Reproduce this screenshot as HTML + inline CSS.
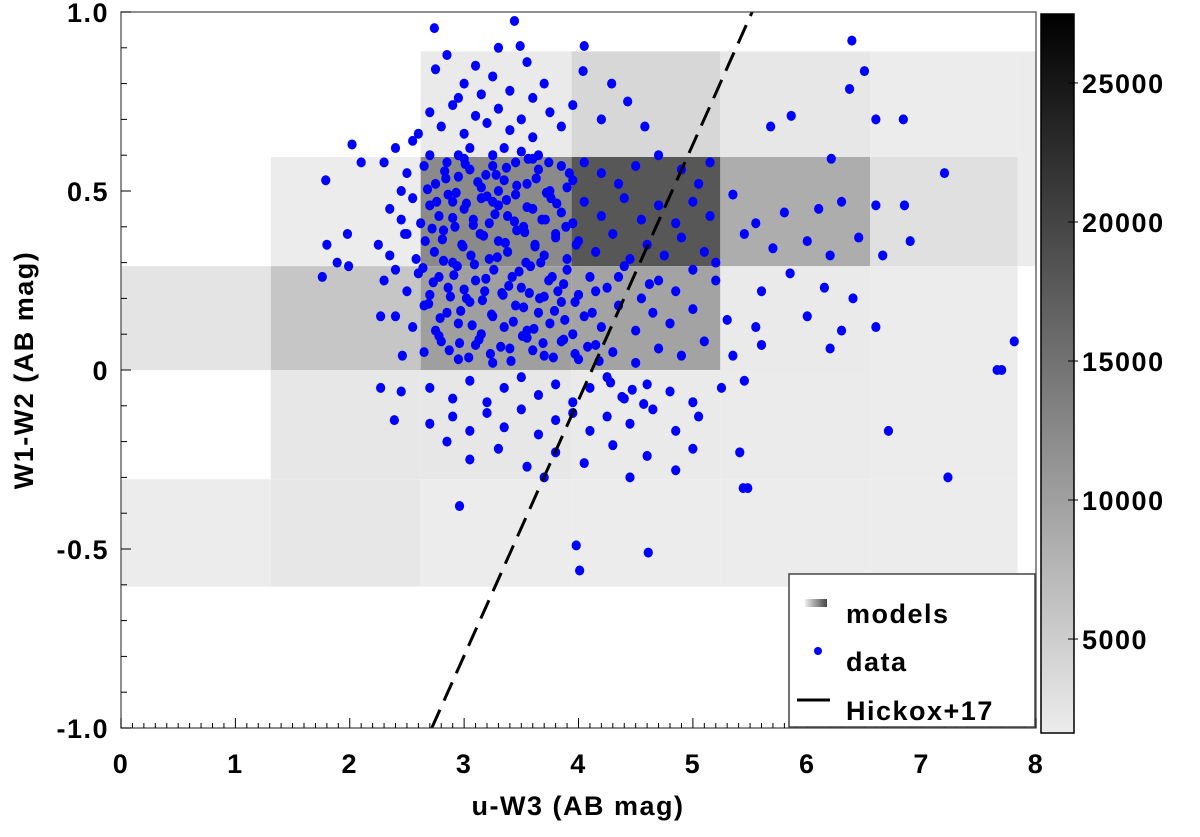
<!DOCTYPE html>
<html><head><meta charset="utf-8"><style>
body{margin:0;background:#fff}
svg text{font-family:"Liberation Sans",sans-serif;font-weight:bold;fill:#000;letter-spacing:1.5px}
</style></head><body>
<svg id="c" width="1200" height="832" viewBox="0 0 1200 832" xmlns="http://www.w3.org/2000/svg">
<defs>
<linearGradient id="cb" x1="0" y1="1" x2="0" y2="0"><stop offset="0" stop-color="#ececec"/><stop offset="1" stop-color="#000"/></linearGradient>
<linearGradient id="lg" x1="0" y1="0" x2="1" y2="0"><stop offset="0" stop-color="#eee"/><stop offset="1" stop-color="#444"/></linearGradient>
</defs>
<g id="cells"></g>
<g id="pts"></g>
<g id="ax"></g>
</svg>
<script>
const xEdges=[0,1.31,2.62,3.94,5.24,6.55,7.84,8.0];
const yEdges=[0.89,0.595,0.29,0,-0.305,-0.605];
// model counts per cell, rows top->bottom, cols left->right (0 = empty)
const cellCounts=[
 [0,0,1800,3960,2180,1620,1620],
 [0,1620,12320,18000,8530,2960,1620],
 [2510,5740,10090,9650,1840,1620,0],
 [0,2180,2180,1840,1700,1620,0],
 [1620,2180,1650,1650,1620,1620,0]];
const cbMin=1620, cbMax=27480;
const cbTicks=[5000,10000,15000,20000,25000];
const xTicks=[0,1,2,3,4,5,6,7,8];
const yTicks=[-1.0,-0.5,0,0.5,1.0];
const yTickLabels=["-1.0","-0.5","0","0.5","1.0"];
const hickoxSlope=0.714, hickoxIntercept=-2.94;
const dataX=[2.74,3.44,3.49,4.05,4.04,4.29,4.20,4.43,4.58,6.39,6.5,6.37,5.68,5.86,6.21,6.6,6.6,6.84,6.85,7.2,6.66,6.9,7.81,7.66,7.7,6.71,7.23,5.44,5.48,5.41,3.98,4.01,4.61,2.96,1.79,2.02,1.8,1.76,1.98,1.89,1.99,2.1,2.27,2.46,2.27,2.39,
2.75,2.85,3.0,3.1,3.25,3.4,3.55,3.7,3.3,2.95,3.15,3.6,
2.7,2.8,2.9,3.0,3.1,3.2,3.3,3.4,3.5,3.6,3.75,3.85,3.95,2.6,3.05,3.35,3.5,3.65,3.25,2.95,
2.3,2.4,2.5,2.55,2.65,2.75,2.85,2.95,3.05,3.15,3.25,3.35,3.45,3.55,3.65,3.75,3.85,3.95,4.05,4.2,4.35,4.5,4.7,4.9,5.05,5.15,2.7,3.0,3.3,3.6,2.45,
2.35,2.45,2.55,2.62,2.7,2.78,2.86,2.92,3.0,3.08,3.15,3.22,3.3,3.38,3.45,3.52,3.6,3.68,3.76,3.85,3.95,4.05,4.2,4.4,4.55,4.7,4.85,5.0,5.15,5.35,5.55,5.8,6.1,6.3,2.5,2.9,3.25,
2.25,2.35,2.48,2.58,2.66,2.74,2.82,2.9,2.98,3.06,3.14,3.22,3.3,3.38,3.46,3.54,3.62,3.7,3.8,3.9,4.0,4.15,4.3,4.45,4.6,4.75,4.9,5.1,5.2,5.45,5.7,6.0,6.2,6.45,
2.3,2.4,2.5,2.6,2.7,2.78,2.86,2.94,3.02,3.1,3.18,3.26,3.34,3.42,3.5,3.58,3.66,3.74,3.82,3.9,4.0,4.1,4.25,4.4,4.55,4.7,4.85,5.0,5.2,5.6,5.85,6.15,6.4,
2.4,2.55,2.65,2.75,2.85,2.95,3.05,3.15,3.25,3.35,3.45,3.55,3.65,3.75,3.85,3.95,4.05,4.2,4.35,4.5,4.65,4.8,5.0,5.3,5.55,6.0,6.3,6.6,
2.65,2.8,2.95,3.1,3.25,3.4,3.55,3.7,3.85,4.0,4.15,4.3,4.5,4.7,4.9,5.1,5.35,5.6,6.2,
2.7,2.9,3.05,3.2,3.35,3.5,3.65,3.8,3.95,4.1,4.25,4.4,4.6,4.8,5.0,5.25,5.45,2.45,
2.9,3.05,3.2,3.35,3.5,3.65,3.8,3.95,4.1,4.25,4.45,4.65,4.85,5.05,2.7,
3.05,3.3,3.55,3.8,4.05,4.3,4.6,4.85,5.0,3.7,4.45,2.85,
2.68,2.76,2.84,2.93,3.02,3.12,3.2,3.28,3.37,3.46,3.55,3.63,3.72,3.81,3.9,2.72,2.81,2.9,2.99,3.08,3.17,3.27,3.36,3.44,3.53,3.62,3.71,3.8,3.89,3.98,
2.64,2.73,2.82,2.91,3.0,3.09,3.19,3.29,3.39,3.48,3.57,3.67,3.77,3.87,2.69,2.79,2.88,2.97,3.07,3.16,3.24,3.33,3.43,3.52,3.61,3.7,3.79,3.88,3.97,4.12,
2.78,2.87,2.96,3.04,3.13,3.23,3.32,3.41,3.51,3.6,3.69,3.78,3.87,3.97,4.08,4.18,4.28,4.38,4.47,4.57,2.83,3.01,3.19,3.37,3.56,3.74,3.92,4.15,4.35,4.62];
const dataY=[0.955,0.975,0.905,0.905,0.835,0.80,0.70,0.75,0.68,0.92,0.835,0.785,0.68,0.71,0.59,0.70,0.46,0.70,0.46,0.55,0.32,0.36,0.08,0,0,-0.17,-0.30,-0.33,-0.33,-0.23,-0.49,-0.56,-0.51,-0.38,0.53,0.63,0.35,0.26,0.38,0.30,0.29,0.58,0.15,0.04,-0.05,-0.14,
0.84,0.88,0.8,0.85,0.82,0.78,0.86,0.8,0.9,0.76,0.77,0.76,
0.72,0.68,0.74,0.66,0.71,0.69,0.73,0.67,0.7,0.65,0.72,0.68,0.74,0.66,0.62,0.62,0.61,0.6,0.6,0.6,
0.58,0.62,0.55,0.64,0.57,0.52,0.58,0.54,0.56,0.51,0.57,0.53,0.58,0.52,0.56,0.5,0.57,0.53,0.58,0.55,0.52,0.57,0.6,0.56,0.52,0.58,0.6,0.59,0.5,0.59,0.5,
0.45,0.42,0.48,0.41,0.46,0.43,0.49,0.4,0.45,0.42,0.48,0.41,0.46,0.43,0.49,0.4,0.45,0.42,0.48,0.44,0.41,0.47,0.43,0.48,0.42,0.46,0.41,0.47,0.43,0.49,0.41,0.44,0.45,0.47,0.38,0.47,0.47,
0.35,0.32,0.38,0.31,0.36,0.33,0.39,0.3,0.35,0.32,0.38,0.31,0.36,0.33,0.39,0.3,0.35,0.32,0.38,0.31,0.36,0.33,0.38,0.31,0.35,0.32,0.37,0.33,0.3,0.38,0.34,0.36,0.32,0.37,
0.25,0.28,0.22,0.27,0.21,0.26,0.23,0.29,0.2,0.25,0.22,0.28,0.21,0.26,0.23,0.29,0.2,0.25,0.22,0.28,0.21,0.26,0.23,0.29,0.2,0.25,0.22,0.28,0.25,0.22,0.27,0.23,0.2,
0.15,0.12,0.18,0.11,0.16,0.13,0.19,0.1,0.15,0.12,0.18,0.11,0.16,0.13,0.19,0.1,0.15,0.12,0.18,0.11,0.16,0.13,0.17,0.14,0.12,0.15,0.11,0.12,
0.05,0.08,0.03,0.07,0.02,0.06,0.09,0.04,0.08,0.03,0.07,0.05,0.02,0.06,0.04,0.08,0.04,0.07,0.06,
-0.05,-0.08,-0.03,-0.09,-0.05,-0.02,-0.07,-0.04,-0.09,-0.05,-0.02,-0.08,-0.04,-0.06,-0.09,-0.05,-0.03,-0.06,
-0.13,-0.17,-0.12,-0.16,-0.11,-0.18,-0.14,-0.12,-0.17,-0.13,-0.15,-0.11,-0.17,-0.13,-0.15,
-0.25,-0.22,-0.27,-0.23,-0.26,-0.21,-0.24,-0.28,-0.22,-0.3,-0.3,-0.2,
0.505,0.47,0.535,0.495,0.465,0.525,0.485,0.545,0.475,0.515,0.455,0.535,0.495,0.465,0.51,0.395,0.365,0.425,0.345,0.405,0.375,0.435,0.355,0.415,0.385,0.345,0.42,0.37,0.4,0.35,
0.285,0.245,0.305,0.265,0.225,0.295,0.255,0.315,0.235,0.275,0.215,0.3,0.26,0.24,0.185,0.145,0.205,0.165,0.125,0.195,0.155,0.215,0.135,0.175,0.115,0.205,0.165,0.14,0.19,0.16,
0.095,0.055,0.075,0.035,0.085,0.045,0.065,0.025,0.095,0.055,0.075,0.035,0.085,0.045,0.065,0.025,-0.035,-0.075,-0.055,-0.095,0.555,0.575,0.545,0.565,0.59,0.58,0.55,0.22,0.26,0.24];

const L=121,R=1036,T=12,B=728;
const sx=v=>L+(v-0)/8*(R-L);
const sy=v=>B-(v+1)/2*(B-T);
const NS="http://www.w3.org/2000/svg";
function mk(tag,attrs,parent){const e=document.createElementNS(NS,tag);for(const k in attrs)e.setAttribute(k,attrs[k]);parent.appendChild(e);return e;}
const cells=document.getElementById('cells'),pts=document.getElementById('pts'),ax=document.getElementById('ax'),svg=document.getElementById('c');
cellCounts.forEach((row,r)=>row.forEach((v,c)=>{if(!v)return;
 const t=Math.max(0,Math.min(1,(v-cbMin)/(cbMax-cbMin)));const g=Math.round(236*(1-t));
 const e=mk('rect',{x:sx(xEdges[c]),y:sy(yEdges[r]),width:sx(xEdges[c+1])-sx(xEdges[c]),height:sy(yEdges[r+1])-sy(yEdges[r]),fill:`rgb(${g},${g},${g})`},cells);
 
 
}));
dataX.forEach((x,i)=>{const e=mk('ellipse',{cx:sx(x),cy:sy(dataY[i]),rx:4.6,ry:5,fill:'#0000ff'},pts);
 
 });
const hx0=(-1-hickoxIntercept)/hickoxSlope,hx1=(1-hickoxIntercept)/hickoxSlope;
const hl=mk('line',{x1:sx(hx0),y1:sy(-1),x2:sx(hx1),y2:sy(1),stroke:'#000','stroke-width':3,'stroke-dasharray':'20,10'},ax);


const fr=mk('rect',{x:L,y:T,width:R-L,height:B-T,fill:'none',stroke:'#444','stroke-width':1.2},ax);


for(let k=-10;k<=10;k++){const v=k/10,maj=k%5===0;mk('line',{x1:L,x2:L+(maj?10:6),y1:sy(v),y2:sy(v),stroke:'#000','stroke-width':1},ax);}
for(let k=0;k<=80;k++){const v=k/10,maj=k%10===0;mk('line',{x1:sx(v),x2:sx(v),y1:B,y2:B-(maj?10:5),stroke:'#000','stroke-width':1},ax);}
xTicks.forEach(v=>{const t=mk('text',{x:sx(v),y:773,'text-anchor':'middle','font-size':27},ax);t.textContent=v;
 
 });
yTicks.forEach((v,i)=>{const t=mk('text',{x:L-12,y:sy(v)+10,'text-anchor':'end','font-size':27},ax);t.textContent=yTickLabels[i];
 
 });
const cbT=14,cbB=733,cy=v=>cbB-(v-cbMin)/(cbMax-cbMin)*(cbB-cbT);
const cb=mk('rect',{x:1041,y:cbT,width:33,height:cbB-cbT,fill:'url(#cb)',stroke:'#000','stroke-width':1.5},ax);


cbTicks.forEach(v=>{mk('line',{x1:1068,x2:1078,y1:cy(v),y2:cy(v),stroke:'#000'},ax);
 const t=mk('text',{x:1082,y:cy(v)+10,'font-size':27},ax);t.textContent=v;
 
 });
</script>
<svg width="1200" height="832" style="position:absolute;left:0;top:0" xmlns="http://www.w3.org/2000/svg">
<text x="578" y="815" text-anchor="middle" font-size="27">u-W3 (AB mag)</text>
<text transform="translate(33,370) rotate(-90)" text-anchor="middle" font-size="27">W1-W2 (AB mag)</text>
<g>
<rect x="789" y="574" width="246" height="153" fill="#fff" stroke="#444" stroke-width="1.5"/>
<rect x="805" y="599" width="22" height="8" fill="url(#lg)"/>
<text x="846" y="623" font-size="27">models</text>
<circle cx="818" cy="651" r="4" fill="#0000ff"/>
<text x="846" y="671" font-size="27">data</text>
<line x1="797" y1="700" x2="830" y2="700" stroke="#000" stroke-width="3"/>
<text x="846" y="720" font-size="27">Hickox+17</text>
</g>
</svg>
</body></html>
